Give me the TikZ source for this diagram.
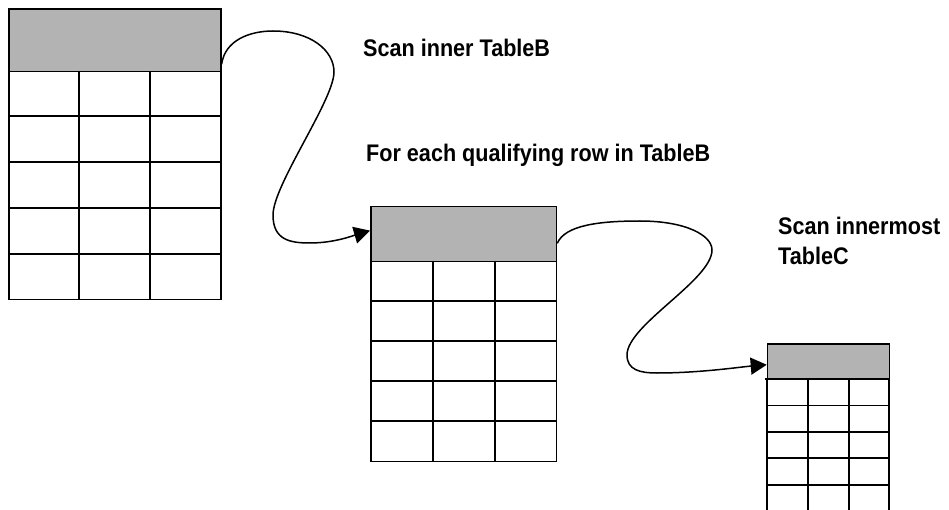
\documentclass[tikz,border=0pt]{standalone}
\usepackage{fontspec}
\setmainfont{Liberation Sans}[FakeStretch=0.9]
\usetikzlibrary{arrows.meta,calc}
\definecolor{hdrgray}{RGB}{179,179,179}
\tikzset{
  hdr/.style={draw=black, fill=hdrgray, line width=1.6pt, inner sep=0pt, anchor=north west},
  tbody/.style={draw=black, line width=1.6pt, inner sep=0pt, anchor=north west},
  gridline/.style={draw=black, line width=1.6pt},
  flow/.style={draw=black, line width=1.5pt, -{Triangle[length=16pt,width=17pt]}},
  lbl/.style={inner sep=0pt, anchor=base west, font=\bfseries\fontsize{24}{30}\selectfont, align=left}
}
\begin{document}
\begin{tikzpicture}[x=1pt,y=-1pt]
\useasboundingbox (0,0) rectangle (949,510);
% ---------- Table A ----------
\node[tbody, minimum width=212pt, minimum height=228pt] (ba) at (8,70.7) {};
\node[hdr, minimum width=212pt, minimum height=62.7pt] (ha) at (8,8) {};
\foreach \y in {116,162,208,254} \draw[gridline] (8,\y) -- (220,\y);
\foreach \x in {79,150} \draw[gridline] (\x,70.7) -- (\x,298.7);
% ---------- Table B ----------
\node[tbody, minimum width=185.7pt, minimum height=200pt] (bb) at (370,260.7) {};
\node[hdr, minimum width=185.7pt, minimum height=55pt] (hb) at (370,205.7) {};
\foreach \y in {300.7,340.7,380.7,420.7} \draw[gridline] (370,\y) -- (555.7,\y);
\foreach \x in {432.7,495} \draw[gridline] (\x,260.7) -- (\x,460.7);
% ---------- Table C ----------
\node[hdr, minimum width=122pt, minimum height=35.4pt] (hc) at (766.7,343.3) {};
\draw[gridline] (766.7,378.7) -- (766.7,512) (888.7,378.7) -- (888.7,512);
\draw[gridline] (765,378.7) -- (888.7,378.7);
\foreach \y in {405.3,431.7,458,485} \draw[gridline] (766.7,\y) -- (888.7,\y);
\foreach \x in {807.7,848.7} \draw[gridline] (\x,378.7) -- (\x,512);
% ---------- Labels ----------
\node[lbl] (l1) at (363,57) {Scan inner TableB};
\node[lbl] (l2) at (366,162) {For each qualifying row in TableB};
\node[lbl] (l3) at (778,265) {Scan innermost\\TableC};
% ---------- Connectors ----------
\draw[flow] ($(ha.south east)+(0,-8)$) .. controls (225,40) and (250,31) .. (273,31)
  .. controls (310,31) and (334,50) .. (334,72)
  .. controls (334,100) and (273,185) .. (273,215)
  .. controls (273,240) and (290,243) .. (310,243)
  .. controls (335,243) and (355,235) .. ($(hb.north west)!0.44!(hb.south west)$);
\draw[flow] ($(hb.south east)+(0,-19)$) .. controls (565,225) and (600,221) .. (640,221)
  .. controls (685,221) and (712,235) .. (712,250)
  .. controls (712,280) and (627,325) .. (627,355)
  .. controls (627,370) and (640,373) .. (657,373)
  .. controls (700,373) and (740,367) .. ($(hc.north west)!0.58!(hc.south west)$);
\end{tikzpicture}
\end{document}
